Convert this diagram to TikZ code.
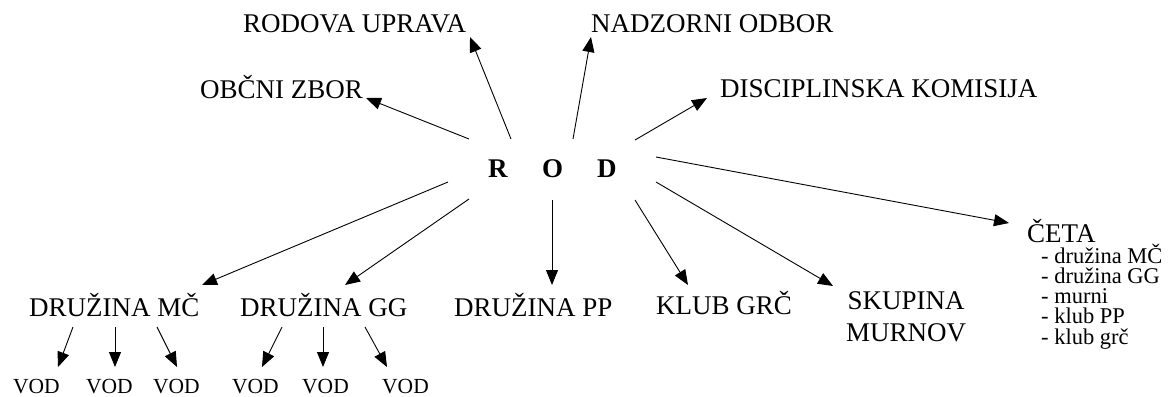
\documentclass[tikz,border=0pt]{standalone}
\usepackage{fontspec}
\setmainfont{Liberation Serif}
\usetikzlibrary{arrows.meta}
\begin{document}
\begin{tikzpicture}[x=1pt,y=-1pt,
  lbl/.style={inner sep=0pt, anchor=base west, font=\fontsize{27}{33}\selectfont},
  vod/.style={inner sep=0pt, anchor=base west, font=\fontsize{21.5}{26}\selectfont},
  arr/.style={line width=0.9pt, -{Triangle[length=15pt,width=12pt]}}]
\useasboundingbox (0,0) rectangle (1169,396);

% centre
\node[lbl, font=\fontsize{27}{33}\selectfont\bfseries] (rod) at (488,177) {R\hspace{34.5pt}O\hspace{34pt}D};

% upper labels
\node[lbl] (obcni) at (200,98) {OBČNI ZBOR};
\node[lbl] (uprava) at (243,33) {RODOVA UPRAVA};
\node[lbl] (nadzorni) at (591,33) {NADZORNI ODBOR};
\node[lbl] (disc) at (720,97.5) {DISCIPLINSKA KOMISIJA};

% lower labels
\node[lbl] (mc) at (29,316) {DRUŽINA MČ};
\node[lbl] (gg) at (240,316) {DRUŽINA GG};
\node[lbl] (pp) at (454,316) {DRUŽINA PP};
\node[lbl] (grc) at (656,314) {KLUB GRČ};
\node[inner sep=0pt, anchor=base, font=\fontsize{27}{33}\selectfont] (skupina) at (906,309)
  {\vtop{\baselineskip=32pt\lineskiplimit=-100pt\halign{\hfil#\hfil\cr SKUPINA\cr MURNOV\cr}}};
\node[lbl] (ceta) at (1027,242) {ČETA};
\node[inner sep=0pt, anchor=base west, font=\fontsize{22.5}{20.25}\selectfont] (cetalist) at (1041,263)
  {\vtop{\baselineskip=20.25pt\lineskiplimit=-100pt
   \hbox{- družina MČ}\hbox{- družina GG}\hbox{- murni}\hbox{- klub PP}\hbox{- klub grč}}};

% VOD labels
\node[vod] (v1) at (13,393) {VOD};
\node[vod] (v2) at (86,393) {VOD};
\node[vod] (v3) at (153,393) {VOD};
\node[vod] (v4) at (232,393) {VOD};
\node[vod] (v5) at (302,393) {VOD};
\node[vod] (v6) at (382,393) {VOD};

% connector end points
\coordinate (rod-obcni) at (469,139);   \coordinate (obcni-in) at (366,98);
\coordinate (rod-uprava) at (511,139);  \coordinate (uprava-in) at (470,37);
\coordinate (rod-nadz) at (573,139);    \coordinate (nadz-in) at (591,37);
\coordinate (rod-disc) at (635,140);    \coordinate (disc-in) at (707,98);
\coordinate (rod-ceta) at (656,157);    \coordinate (ceta-in) at (1009,223);
\coordinate (rod-skup) at (656,182);    \coordinate (skup-in) at (833,286);
\coordinate (rod-grc) at (635,200);     \coordinate (grc-in) at (688,285);
\coordinate (rod-pp) at (552,200);      \coordinate (pp-in) at (552,285);
\coordinate (rod-gg) at (469,199);      \coordinate (gg-in) at (345,285);
\coordinate (rod-mc) at (448,182);      \coordinate (mc-in) at (202,285);

\coordinate (mc-1) at (73,327);  \coordinate (v1-in) at (58,367);
\coordinate (mc-2) at (115,327); \coordinate (v2-in) at (115,367);
\coordinate (mc-3) at (157,327); \coordinate (v3-in) at (177,367);
\coordinate (gg-1) at (282,327); \coordinate (v4-in) at (262,367);
\coordinate (gg-2) at (323,327); \coordinate (v5-in) at (323,367);
\coordinate (gg-3) at (365,327); \coordinate (v6-in) at (387,367);

% arrows
\draw[arr] (rod-obcni) -- (obcni-in);
\draw[arr] (rod-uprava) -- (uprava-in);
\draw[arr] (rod-nadz) -- (nadz-in);
\draw[arr] (rod-disc) -- (disc-in);
\draw[arr] (rod-ceta) -- (ceta-in);
\draw[arr] (rod-skup) -- (skup-in);
\draw[arr] (rod-grc) -- (grc-in);
\draw[arr] (rod-pp) -- (pp-in);
\draw[arr] (rod-gg) -- (gg-in);
\draw[arr] (rod-mc) -- (mc-in);

\draw[arr] (mc-1) -- (v1-in);
\draw[arr] (mc-2) -- (v2-in);
\draw[arr] (mc-3) -- (v3-in);
\draw[arr] (gg-1) -- (v4-in);
\draw[arr] (gg-2) -- (v5-in);
\draw[arr] (gg-3) -- (v6-in);
\end{tikzpicture}
\end{document}
